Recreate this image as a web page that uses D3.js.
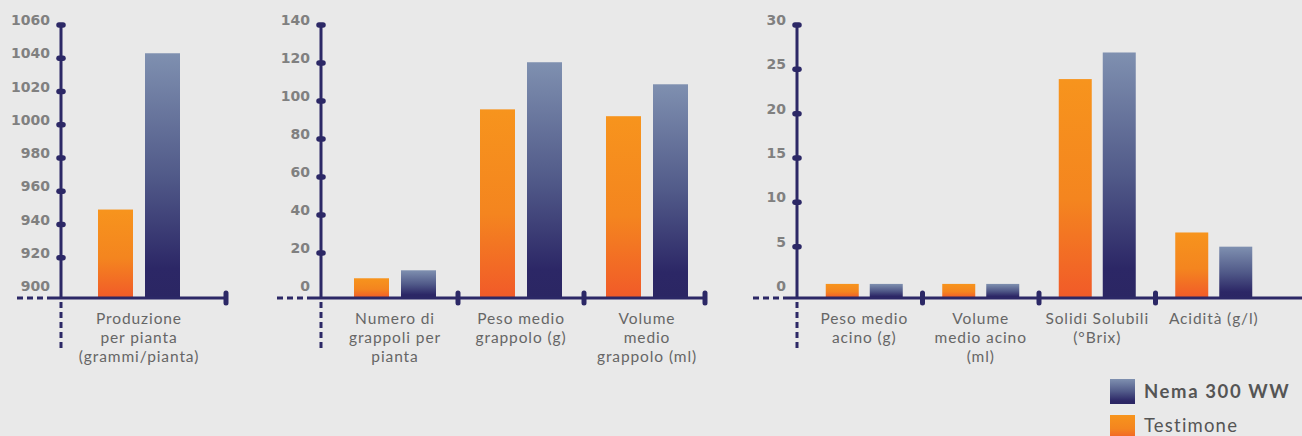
<!DOCTYPE html>
<html>
<head>
<meta charset="utf-8">
<script src="https://cdn.jsdelivr.net/npm/d3@7"></script>
<style>
html,body{margin:0;padding:0;background:#e9e9e9;}
svg{display:block;}
</style>
</head>
<body>
<svg id="chart" width="1302" height="436"></svg>
<script>
// ---- data ----
const seriesNames = ["Testimone", "Nema 300 WW"];

const p1Categories = [["Produzione", "per pianta", "(grammi/pianta)"]];
const p1Testimone = [949];
const p1Nema = [1043];
const p1Ticks = [900, 920, 940, 960, 980, 1000, 1020, 1040, 1060];

const p2Categories = [["Numero di", "grappoli per", "pianta"], ["Peso medio", "grappolo (g)"], ["Volume", "medio", "grappolo (ml)"]];
const p2Testimone = [6.7, 95.6, 92];
const p2Nema = [10.9, 120.4, 108.8];
const p2Ticks = [0, 20, 40, 60, 80, 100, 120, 140];

const p3Categories = [["Peso medio", "acino (g)"], ["Volume", "medio acino", "(ml)"], ["Solidi Solubili", "(°Brix)"], ["Acidità (g/l)"]];
const p3Testimone = [0.8, 0.8, 23.9, 6.6];
const p3Nema = [0.8, 0.8, 26.9, 5.0];
const p3Ticks = [0, 5, 10, 15, 20, 25, 30];

// ---- layout ----
const svg = d3.select("#chart");
const AXIS = "#2c2866";
const TICKTXT = "#808080";
const CATTXT = "#666666";
const baseY = 298;
const yTop = 25, yZero = 291;

const defs = svg.append("defs");
function grad(id, stops) {
  const g = defs.append("linearGradient").attr("id", id)
    .attr("x1", 0).attr("y1", 0).attr("x2", 0).attr("y2", 1);
  stops.forEach(s => g.append("stop").attr("offset", s[0]).attr("stop-color", s[1]));
}
grad("gOrange", [[0, "#f7941d"], [0.55, "#f4851f"], [1, "#f15a29"]]);
grad("gNavy", [[0, "#7f90b0"], [0.5, "#515a89"], [0.88, "#2c2766"], [1, "#2b2663"]]);
const fills = {"Testimone": "url(#gOrange)", "Nema 300 WW": "url(#gNavy)"};

const panels = [
  {axisX: 61, range: [52, 226], cats: p1Categories, t: p1Testimone, n: p1Nema, ticks: p1Ticks, barW: 35, gap: 12, endCap: true, axisEnd: 226},
  {axisX: 321, range: [332, 710], cats: p2Categories, t: p2Testimone, n: p2Nema, ticks: p2Ticks, barW: 35, gap: 12, endCap: true, axisEnd: 705},
  {axisX: 797, range: [806, 1272], cats: p3Categories, t: p3Testimone, n: p3Nema, ticks: p3Ticks, barW: 33, gap: 11, endCap: false, axisEnd: 1302}
];

panels.forEach(p => {
  const g = svg.append("g");
  const y = d3.scaleLinear().domain([p.ticks[0], p.ticks[p.ticks.length - 1]]).range([yZero, yTop]);
  const idx = p.cats.map((c, i) => i);
  const x = d3.scaleBand().domain(idx).range(p.range);
  const sub = d3.scaleOrdinal().domain(seriesNames).range([-p.gap / 2 - p.barW, p.gap / 2]);

  // bars
  const rows = idx.map(i => ({i, vals: [{s: "Testimone", v: p.t[i]}, {s: "Nema 300 WW", v: p.n[i]}]}));
  rows.forEach(r => {
    const cx = x(r.i) + x.bandwidth() / 2;
    g.selectAll(null).data(r.vals).enter().append("rect")
      .attr("x", d => cx + sub(d.s))
      .attr("y", d => y(d.v))
      .attr("width", p.barW)
      .attr("height", d => baseY - y(d.v))
      .attr("fill", d => fills[d.s]);
  });

  // x axis line
  g.append("line").attr("x1", p.axisX - 44).attr("x2", p.axisX - 14)
    .attr("y1", baseY).attr("y2", baseY)
    .attr("stroke", AXIS).attr("stroke-width", 3).attr("stroke-dasharray", "6,4");
  g.append("line").attr("x1", p.axisX - 14).attr("x2", p.axisEnd)
    .attr("y1", baseY).attr("y2", baseY)
    .attr("stroke", AXIS).attr("stroke-width", 3);

  // separators
  const seps = idx.slice(1).map(i => x(i));
  if (p.endCap) seps.push(p.axisEnd);
  g.selectAll(null).data(seps).enter().append("line")
    .attr("x1", d => d).attr("x2", d => d)
    .attr("y1", baseY - 5).attr("y2", baseY + 5)
    .attr("stroke", AXIS).attr("stroke-width", 5).attr("stroke-linecap", "round");

  // y axis line
  g.append("line").attr("x1", p.axisX).attr("x2", p.axisX)
    .attr("y1", yTop).attr("y2", baseY)
    .attr("stroke", AXIS).attr("stroke-width", 3);
  g.append("line").attr("x1", p.axisX).attr("x2", p.axisX)
    .attr("y1", baseY + 4).attr("y2", 352)
    .attr("stroke", AXIS).attr("stroke-width", 3).attr("stroke-dasharray", "6,4");

  // ticks (bottom tick sits near baseline, no dot)
  const tickVals = p.ticks.slice(1);
  g.selectAll(null).data(tickVals).enter().append("line")
    .attr("x1", p.axisX - 2).attr("x2", p.axisX + 2)
    .attr("y1", d => y(d)).attr("y2", d => y(d))
    .attr("stroke", AXIS).attr("stroke-width", 5.5).attr("stroke-linecap", "round");

  g.selectAll(null).data(p.ticks).enter().append("text")
    .attr("x", p.axisX - 11)
    .attr("y", d => y(d) - 5)
    .attr("dy", "0.36em")
    .attr("text-anchor", "end")
    .attr("font-family", "'DejaVu Sans', sans-serif")
    .attr("font-weight", 700)
    .attr("font-size", 14)
    .attr("fill", TICKTXT)
    .text(d => d);

  // category labels (one text per line)
  idx.forEach(i => {
    const cx = x(i) + x.bandwidth() / 2;
    g.selectAll(null).data(p.cats[i]).enter().append("text")
      .attr("x", cx)
      .attr("y", (d, k) => 324 + k * 19)
      .attr("text-anchor", "middle")
      .attr("font-family", "Lato, sans-serif")
      .attr("font-weight", 400)
      .attr("font-size", 15.5)
      .attr("letter-spacing", 0.9)
      .attr("fill", CATTXT)
      .text(d => d);
  });
});

// legend
const legendItems = ["Nema 300 WW", "Testimone"];
const lg = svg.append("g");
legendItems.forEach((name, k) => {
  lg.append("rect").attr("x", 1110).attr("y", 379 + k * 36).attr("width", 25).attr("height", 25)
    .attr("fill", fills[name]);
  lg.append("text").attr("x", 1144).attr("y", 398 + k * 34)
    .attr("font-family", "Lato, sans-serif")
    .attr("font-weight", k === 0 ? 700 : 400)
    .attr("font-size", 18.5)
    .attr("letter-spacing", k === 0 ? 1.6 : 1.2)
    .attr("fill", "#555")
    .text(name);
});
</script>
</body>
</html>
